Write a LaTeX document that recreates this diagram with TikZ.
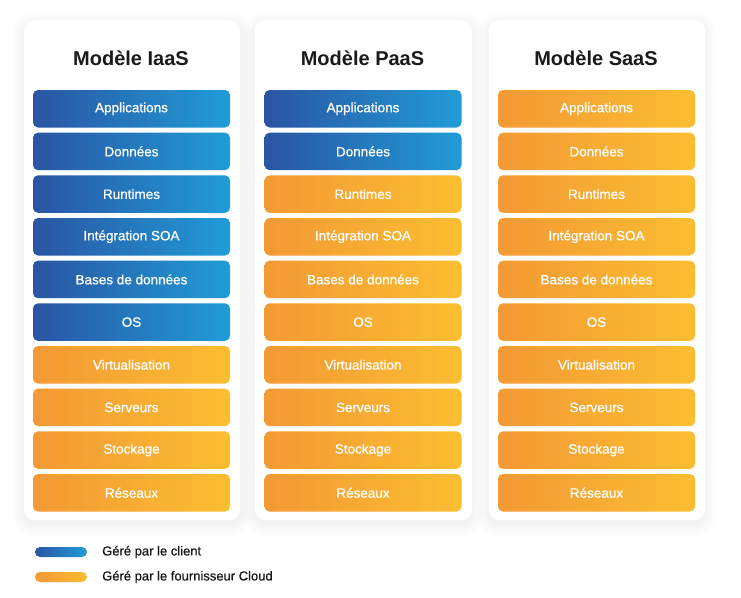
\documentclass[tikz,border=0pt]{standalone}
\usepackage{fontspec}
\setmainfont{Liberation Sans}
\newfontfamily\medfont{Liberation Sans}[FakeBold=0.8]
\definecolor{blueL}{HTML}{2A55A3}
\definecolor{blueR}{HTML}{209CD7}
\definecolor{orL}{HTML}{F39935}
\definecolor{orR}{HTML}{FBBE31}
\definecolor{ink}{HTML}{1A1A1A}
\begin{document}
\begin{tikzpicture}[x=1pt,y=-1pt,
  card/.style={fill=white, rounded corners=10pt, minimum width=216pt, minimum height=500pt, inner sep=0pt},
  layer/.style={rounded corners=5pt, minimum width=197pt, minimum height=37.5pt, inner sep=0pt, text=white, font=\medfont\fontsize{13.5}{15}\selectfont},
  client/.style={layer, left color=blueL, right color=blueR},
  provider/.style={layer, left color=orL, right color=orR},
  cardtitle/.style={font=\bfseries\fontsize{20}{22}\selectfont, text=ink},
  legbar/.style={rounded corners=5pt, minimum width=52pt, minimum height=10pt, inner sep=0pt},
  legtext/.style={anchor=west, font=\medfont\fontsize{13}{15}\selectfont, text=ink, inner sep=0pt}
]
\useasboundingbox[fill=white] (0,0) rectangle (741,597);
% soft shadows
\foreach \xa/\xb in {24/240, 255/472, 489/705}{
  \foreach \k in {1,...,12}{
    \fill[black, opacity=0.0035, rounded corners=10+\k] (\xa-\k, 20-\k+4) rectangle (\xb+\k, 520+\k+4);
  }
}
\foreach \col/\cx/\cw/\nb/\ttl in {1/132/216/6/IaaS, 2/363.5/217/2/PaaS, 3/597/216/0/SaaS}{
  \node[card, minimum width=\cw pt] (card\col) at (\cx,270) {};
  \node[cardtitle] (title\col) at (\cx-1,58) {Modèle \ttl};
  \foreach \t [count=\i from 0] in {Applications, Données, Runtimes, Intégration SOA, Bases de données, OS, Virtualisation, Serveurs, Stockage, Réseaux}{
    \ifnum\i<\nb \def\sty{client}\else\def\sty{provider}\fi
    \node[\sty] (box\col-\i) at (\cx-0.5, 108.75+42.67*\i) {\t};
  }
}
% legend
\node[legbar, left color=blueL, right color=blueR] (legc) at (61,552) {};
\node[legbar, left color=orL, right color=orR] (legp) at (61,577) {};
\node[legtext] (legctext) at (102,552) {Géré par le client};
\node[legtext] (legptext) at (102,577) {Géré par le fournisseur Cloud};
\end{tikzpicture}
\end{document}
